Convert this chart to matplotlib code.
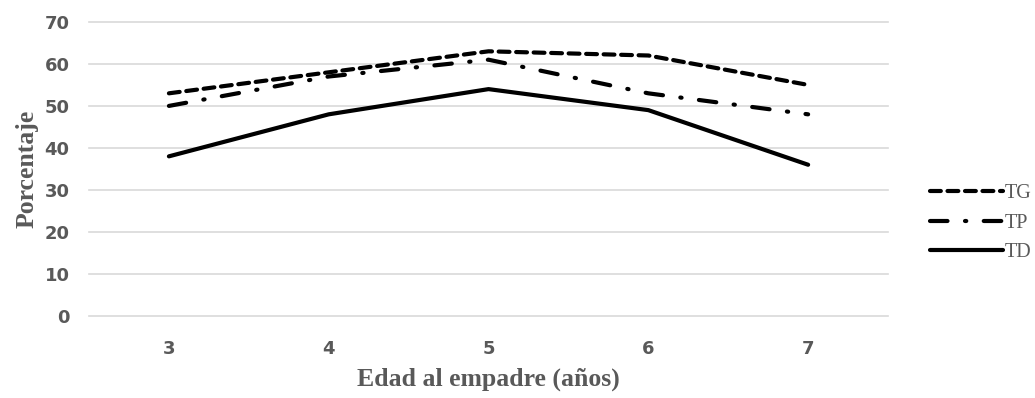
import numpy as np
import matplotlib.pyplot as plt

edades = ["3", "4", "5", "6", "7"]
tg = [53, 58, 63, 62, 55]
tp = [50, 57, 61, 53, 48]
td = [38, 48, 54, 49, 36]
yticks = [0, 10, 20, 30, 40, 50, 60, 70]

gris = "#595959"

fig = plt.figure(figsize=(10.35, 3.98), dpi=100)
ax = fig.add_axes([0.086, 0.206, 0.772, 0.739])

x = np.arange(len(edades))
ax.plot(x, tg, color="black", lw=3, linestyle=(0, (2.6, 1.6)),
        dash_capstyle="round", solid_capstyle="round", label="TG")
ax.plot(x, tp, color="black", lw=3, linestyle=(0, (4.2, 4.2, 0.3, 4.2)),
        dash_capstyle="round", solid_capstyle="round", label="TP")
ax.plot(x, td, color="black", lw=3, solid_capstyle="round", label="TD")

ax.set_xlim(-0.5, len(edades) - 0.5)
ax.set_ylim(0, 70)
ax.set_xticks(x)
ax.set_xticklabels(edades)
ax.set_yticks(yticks)
ax.grid(axis="y", color="#d9d9d9", lw=1.2)
for gl in ax.get_ygridlines():
    gl.set_clip_on(False)
ax.set_axisbelow(True)
for s in ax.spines.values():
    s.set_visible(False)
ax.tick_params(length=0, labelsize=13, labelcolor=gris, pad=14)
for lab in ax.get_xticklabels() + ax.get_yticklabels():
    lab.set_fontweight("bold")
ax.tick_params(axis="x", pad=17)

ax.set_xlabel("Edad al empadre (años)", family="Liberation Serif", fontweight="bold",
              fontsize=18.5, color=gris, labelpad=7)
ax.set_ylabel("Porcentaje", family="Liberation Serif", fontweight="bold",
              fontsize=18.5, color=gris, labelpad=4)

leg = ax.legend(loc="center left", bbox_to_anchor=(1.03, 0.316), frameon=False,
                prop={"family": "Liberation Serif", "size": 14.5},
                handlelength=3.6, handletextpad=0.1, labelspacing=0.5)
for t in leg.get_texts():
    t.set_color(gris)

fig.savefig("out.png", dpi=100)
